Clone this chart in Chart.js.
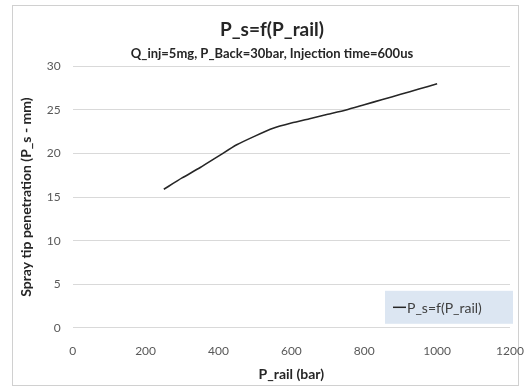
<!DOCTYPE html>
<html>
<head>
<meta charset="utf-8">
<script src="https://cdn.jsdelivr.net/npm/chart.js@4"></script>
<style>
  body { margin: 0; background: #fff; }
  #wrap { width: 526px; height: 388px; }
</style>
</head>
<body>
<div id="wrap"><canvas id="chart" width="526" height="388"></canvas></div>
<script>
// Data
var seriesName = 'P_s=f(P_rail)';
var railPressure = [250, 300, 350, 400, 450, 500, 550, 600, 650, 700, 750, 800, 850, 900, 950, 1000];
var penetration = [15.9, 17.2, 18.4, 19.7, 21.0, 22.0, 22.9, 23.5, 24.0, 24.5, 25.0, 25.6, 26.2, 26.8, 27.4, 28.0];

var fontFamily = 'Lato, "Open Sans", "Liberation Sans", sans-serif';

// Outer frame around the whole chart
var framePlugin = {
  id: 'frame',
  beforeDraw: function(chart) {
    var ctx = chart.ctx;
    ctx.save();
    ctx.fillStyle = '#fff';
    ctx.fillRect(0, 0, chart.width, chart.height);
    ctx.strokeStyle = '#d0d0d0';
    ctx.lineWidth = 1;
    ctx.strokeRect(12.5, 5.5, 506, 380);
    ctx.restore();
  }
};

// Legend drawn inside the plot, bottom right
var insideLegend = {
  id: 'insideLegend',
  afterDraw: function(chart) {
    var ctx = chart.ctx;
    var area = chart.chartArea;
    var ds = chart.data.datasets[0];
    var w = 128, h = 33;
    var x = area.right + 3 - w;
    var y = area.bottom - 4 - h;
    ctx.save();
    ctx.fillStyle = '#dce6f2';
    ctx.fillRect(x, y, w, h);
    ctx.strokeStyle = ds.borderColor;
    ctx.lineWidth = 1.5;
    ctx.beginPath();
    ctx.moveTo(x + 8, y + h / 2);
    ctx.lineTo(x + 21, y + h / 2);
    ctx.stroke();
    ctx.fillStyle = '#404040';
    ctx.font = '14px ' + fontFamily;
    ctx.textBaseline = 'middle';
    ctx.fillText(ds.label, x + 22, y + h / 2 + 1);
    ctx.restore();
  }
};

var points = railPressure.map(function(p, i) {
  return { x: p, y: penetration[i] };
});

new Chart(document.getElementById('chart'), {
  type: 'line',
  data: {
    datasets: [{
      label: seriesName,
      data: points,
      borderColor: '#262626',
      borderWidth: 1.6,
      pointRadius: 0,
      tension: 0.2,
      fill: false
    }]
  },
  options: {
    responsive: false,
    animation: false,
    layout: { padding: { left: 18, right: 0, top: 18, bottom: 5 } },
    plugins: {
      legend: { display: false },
      tooltip: { enabled: false },
      title: {
        display: true,
        text: 'P_s=f(P_rail)',
        color: '#262626',
        font: { family: fontFamily, size: 19, weight: 'bold' },
        padding: { top: 0, bottom: 5 }
      },
      subtitle: {
        display: true,
        text: 'Q_inj=5mg, P_Back=30bar, Injection time=600us',
        color: '#262626',
        font: { family: fontFamily, size: 13, weight: 'bold' },
        padding: { top: 0, bottom: 5 }
      }
    },
    scales: {
      x: {
        type: 'linear',
        min: 0,
        max: 1200,
        afterFit: function(scale) { scale.paddingRight = 16; },
        ticks: {
          stepSize: 200,
          color: '#595959',
          font: { family: fontFamily, size: 12 },
          padding: 8,
          callback: function(v) { return String(v); }
        },
        grid: { display: false },
        border: { display: false },
        title: {
          display: true,
          text: 'P_rail (bar)',
          color: '#262626',
          font: { family: fontFamily, size: 14, weight: 'bold' },
          padding: { top: 0, bottom: 0 }
        }
      },
      y: {
        min: 0,
        max: 30,
        ticks: { stepSize: 5, color: '#595959', font: { family: fontFamily, size: 12 }, padding: 12 },
        grid: { color: '#d9d9d9', drawTicks: false },
        border: { display: false },
        title: {
          display: true,
          text: 'Spray tip penetration (P_s - mm)',
          color: '#262626',
          font: { family: fontFamily, size: 14, weight: 'bold' },
          padding: { top: 0, bottom: 0 }
        }
      }
    }
  },
  plugins: [framePlugin, insideLegend]
});
</script>
</body>
</html>
